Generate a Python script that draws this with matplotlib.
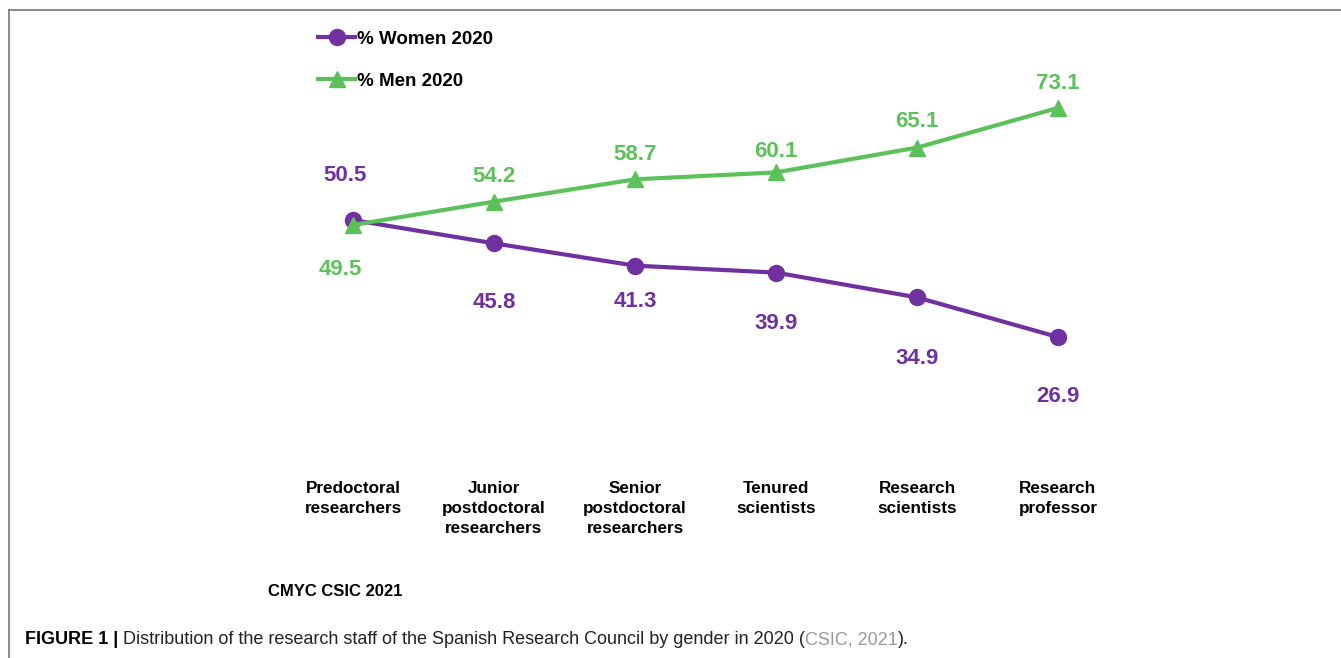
import matplotlib
matplotlib.use("Agg")
import matplotlib.pyplot as plt
import matplotlib.transforms as mtransforms
from matplotlib.lines import Line2D

plt.rcParams['font.family'] = ['Liberation Sans', 'DejaVu Sans']

# data
categories = ["Predoctoral\nresearchers", "Junior\npostdoctoral\nresearchers",
              "Senior\npostdoctoral\nresearchers", "Tenured\nscientists",
              "Research\nscientists", "Research\nprofessor"]
women = [50.5, 45.8, 41.3, 39.9, 34.9, 26.9]
men = [49.5, 54.2, 58.7, 60.1, 65.1, 73.1]

# label offsets (pixels, up is positive)
women_dy = [45, -59, -36, -51, -61, -59]
men_dy = [-45, 25, 25, 21, 26, 24]
women_dx = [-8, 0, 0, 0, 0, 0]
men_dx = [-13, 0, 0, 0, 0, 0]

purple = "#7030a0"
green = "#5cc15a"

W, H = 1341, 658
fig = plt.figure(figsize=(W / 100, H / 100), dpi=100)
fig.patch.set_facecolor("white")

# axes placed in pixel terms
ax = fig.add_axes([282.5 / W, 1 - 420 / H, 846 / W, 360 / H])
ax.set_xlim(-0.5, 5.5)
ax.set_ylim(10.18, 82.76)
ax.axis("off")

x = list(range(len(categories)))
ax.plot(x, women, color=purple, lw=3, marker="o", markersize=11.5, label="% Women 2020", zorder=3)
ax.plot(x, men, color=green, lw=3, marker="^", markersize=12, label="% Men 2020", zorder=4)

for i in x:
    ax.annotate(f"{women[i]:.1f}", (i, women[i]), xytext=(women_dx[i] * 0.72, women_dy[i] * 0.72),
                textcoords="offset points", ha="center", va="center",
                fontsize=16, fontweight="bold", color=purple)
    ax.annotate(f"{men[i]:.1f}", (i, men[i]), xytext=(men_dx[i] * 0.72, men_dy[i] * 0.72),
                textcoords="offset points", ha="center", va="center",
                fontsize=16, fontweight="bold", color=green)

# category labels under the plot
tr = mtransforms.blended_transform_factory(ax.transData, fig.transFigure)
for i, c in enumerate(categories):
    ax.text(i, 1 - 481 / H, c, transform=tr, ha="center", va="top",
            fontsize=12.3, fontweight="bold", linespacing=1.42)

leg = fig.legend(loc="upper left", bbox_to_anchor=(301 / W, 1 - 14 / H), frameon=False,
                 handlelength=2.0, handletextpad=0.1, labelspacing=1.32,
                 prop={"weight": "bold", "size": 13.5})

fig.text(335 / W, 1 - 591 / H, "CMYC CSIC 2021", ha="center", va="center",
         fontsize=12, fontweight="bold")

# caption pieces
renderer = fig.canvas.get_renderer()
cx = 25 / W
cy = 1 - 640 / H
pieces = [("FIGURE 1 | ", "bold", "black"),
          ("Distribution of the research staff of the Spanish Research Council by gender in 2020 (", "normal", "#222222"),
          ("CSIC, 2021", "normal", "#999999"),
          (").", "normal", "#222222")]
for txt, wt, col in pieces:
    t = fig.text(cx, cy, txt, ha="left", va="center", fontsize=13, fontweight=wt, color=col)
    bb = t.get_window_extent(renderer=renderer)
    cx += bb.width / W

# frame lines (top and left)
fig.add_artist(Line2D([9 / W, 1], [1 - 10 / H, 1 - 10 / H], color="#777777", lw=1.2))
fig.add_artist(Line2D([9 / W, 9 / W], [0, 1 - 10 / H], color="#777777", lw=1.2))

fig.savefig("out.png", dpi=100)
